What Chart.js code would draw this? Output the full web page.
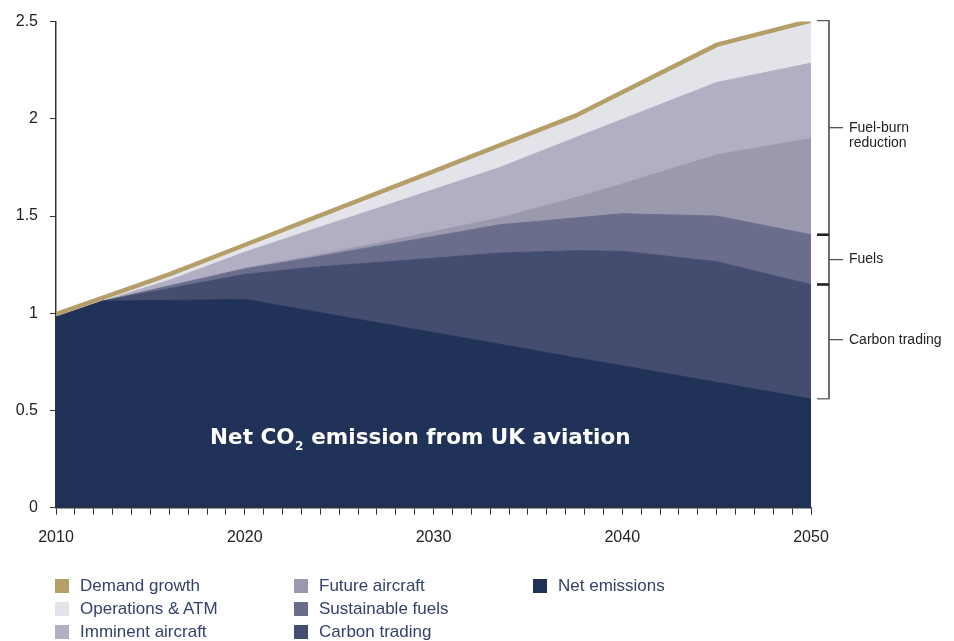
<!DOCTYPE html>
<html>
<head>
<meta charset="utf-8">
<script src="https://cdn.jsdelivr.net/npm/chart.js@4.4.1/dist/chart.umd.min.js"></script>
<style>
  html, body { margin: 0; padding: 0; background: #ffffff; }
  #wrap { position: relative; width: 954px; height: 641px; overflow: hidden; }
  #chart { position: absolute; left: 0; top: 0; }
  .lg { position: absolute; height: 20px; display: flex; align-items: center; white-space: nowrap;
        font-family: "Liberation Sans", Arial, sans-serif; font-size: 17px; color: #34426b; }
  .lg i { display: inline-block; width: 14px; height: 14px; margin-right: 11px; }
</style>
</head>
<body>
<div id="wrap">
  <canvas id="chart" width="954" height="641"></canvas>
  <div id="legend"></div>
</div>
<script>
// ---- data ----
const years = [2010, 2012.5, 2016, 2020, 2023.5, 2027, 2030, 2033.5, 2037.5, 2040, 2045, 2050];
// Demand growth (unabated emissions, index 2010 = 1)
const demandGrowth     = [0.995, 1.080, 1.200, 1.351, 1.484, 1.617, 1.730, 1.863, 2.015, 2.137, 2.380, 2.505];
// Upper edge of each stacked band
const operationsAtm    = [0.980, 1.066, 1.185, 1.336, 1.469, 1.600, 1.715, 1.848, 2.000, 2.120, 2.365, 2.490];
const imminentAircraft = [0.980, 1.063, 1.170, 1.314, 1.427, 1.539, 1.636, 1.749, 1.902, 1.997, 2.187, 2.286];
const futureAircraft   = [0.980, 1.063, 1.142, 1.232, 1.293, 1.360, 1.420, 1.490, 1.594, 1.665, 1.815, 1.899];
const sustainableFuels = [0.980, 1.063, 1.140, 1.228, 1.285, 1.345, 1.395, 1.455, 1.490, 1.512, 1.500, 1.404];
const carbonTrading    = [0.980, 1.063, 1.127, 1.200, 1.236, 1.261, 1.283, 1.310, 1.322, 1.319, 1.265, 1.148];
const netEmissions     = [0.980, 1.063, 1.066, 1.072, 1.012, 0.952, 0.901, 0.841, 0.772, 0.730, 0.645, 0.560];

const xTickLabels = [2010, 2020, 2030, 2040, 2050];
const yTickValues = [0, 0.5, 1, 1.5, 2, 2.5];

const legendItems = [
  ['Demand growth', '#b49e6a'], ['Operations & ATM', '#e3e4ea'], ['Imminent aircraft', '#b2afc4'],
  ['Future aircraft', '#9b99ae'], ['Sustainable fuels', '#6b6d8c'], ['Carbon trading', '#444d70'],
  ['Net emissions', '#203258']
];
const bracketLabels = [['Fuel-burn', 'reduction'], ['Fuels'], ['Carbon trading']];

// ---- styles ----
const COL = {
  gold: '#b49e6a', ops: '#e3e4ea', imminent: '#b2afc4', future: '#9b99ae',
  sust: '#6b6d8c', carbon: '#444d70', net: '#203258', axis: '#333333', text: '#222222'
};

const pts = arr => years.map((x, i) => ({ x: x, y: arr[i] }));
function band(label, arr, color, fill) {
  return { label, data: pts(arr), fill, backgroundColor: color, borderColor: color,
           borderWidth: 1, pointRadius: 0, tension: 0 };
}

const annotationPlugin = {
  id: 'annot',
  afterDatasetsDraw(chart) {
    const { ctx, scales: { x, y } } = chart;
    ctx.save();
    ctx.fillStyle = '#ffffff';
    ctx.textBaseline = 'alphabetic';
    const big = 'bold 21.5px "DejaVu Sans"', small = 'bold 12px "DejaVu Sans"';
    const p1 = 'Net CO', p2 = '2', p3 = ' emission from UK aviation';
    ctx.font = big; const w1 = ctx.measureText(p1).width, w3 = ctx.measureText(p3).width;
    ctx.font = small; const w2 = ctx.measureText(p2).width + 1;
    const total = w1 + w2 + w3;
    let sx = x.getPixelForValue(2029.3) - total / 2;
    const by = y.getPixelForValue(0.328);
    ctx.font = big; ctx.fillText(p1, sx, by);
    ctx.font = small; ctx.fillText(p2, sx + w1 + 0.5, by + 6.5);
    ctx.font = big; ctx.fillText(p3, sx + w1 + w2, by);
    ctx.restore();
  },
  afterDraw(chart) {
    const { ctx, chartArea, scales: { y } } = chart;
    const n = years.length - 1;
    const edges = [demandGrowth[n], sustainableFuels[n], carbonTrading[n], netEmissions[n]].map(v => y.getPixelForValue(v));
    const xv = chartArea.right + 18;
    ctx.save();
    ctx.strokeStyle = '#222';
    ctx.lineWidth = 1.3;
    ctx.beginPath(); ctx.moveTo(xv, edges[0]); ctx.lineTo(xv, edges[3]); ctx.stroke();
    edges.forEach((ey, i) => {
      const inner = (i === 1 || i === 2);
      ctx.lineWidth = inner ? 2.6 : 1.2;
      ctx.strokeStyle = inner ? '#222' : '#555';
      ctx.beginPath(); ctx.moveTo(chartArea.right + 6, ey); ctx.lineTo(xv + (inner ? 0 : 0.6), ey); ctx.stroke();
    });
    ctx.font = '14px "Liberation Sans", Arial, sans-serif';
    ctx.fillStyle = COL.text;
    ctx.textBaseline = 'middle';
    for (let i = 0; i < 3; i++) {
      const my = (edges[i] + edges[i + 1]) / 2 - (i === 2 ? 2 : 0);
      ctx.strokeStyle = '#555'; ctx.lineWidth = 1.3;
      ctx.beginPath(); ctx.moveTo(xv, my); ctx.lineTo(xv + 14, my); ctx.stroke();
      bracketLabels[i].forEach((t, k) => ctx.fillText(t, xv + 20, my + k * 15));
    }
    ctx.restore();
  }
};

new Chart(document.getElementById('chart'), {
  type: 'line',
  data: {
    datasets: [
      band('Net emissions', netEmissions, COL.net, 'origin'),
      band('Carbon trading', carbonTrading, COL.carbon, '-1'),
      band('Sustainable fuels', sustainableFuels, COL.sust, '-1'),
      band('Future aircraft', futureAircraft, COL.future, '-1'),
      band('Imminent aircraft', imminentAircraft, COL.imminent, '-1'),
      band('Operations & ATM', operationsAtm, COL.ops, '-1'),
      { label: 'Demand growth', data: pts(demandGrowth), fill: false, borderColor: COL.gold,
        borderWidth: 4.5, pointRadius: 0, tension: 0, order: -1, borderJoinStyle: 'miter' }
    ]
  },
  options: {
    responsive: false, animation: false, devicePixelRatio: 1,
    layout: { padding: { left: 0, top: 19, right: 143, bottom: 93.3 } },
    plugins: { legend: { display: false }, tooltip: { enabled: false } },
    scales: {
      x: {
        type: 'linear', min: 2010, max: 2050, z: 1,
        afterFit: s => { s.height = 40; },
        ticks: { stepSize: 1, autoSkip: false, maxRotation: 0, padding: 13,
                 color: COL.text, font: { family: '"Liberation Sans", Arial, sans-serif', size: 16 },
                 callback: v => xTickLabels.includes(v) ? String(v) : '' },
        grid: { drawOnChartArea: false, drawTicks: true, tickLength: 7, color: COL.axis, lineWidth: 1 },
        border: { display: true, color: COL.axis, width: 1.5 }
      },
      y: {
        min: 0, max: 2.5, z: 1,
        afterFit: s => { s.width = 56; },
        afterBuildTicks: s => { s.ticks = yTickValues.map(v => ({ value: v })); },
        ticks: { padding: 12, color: COL.text, font: { family: '"Liberation Sans", Arial, sans-serif', size: 16 },
                 callback: v => String(v) },
        grid: { drawOnChartArea: false, drawTicks: true, tickLength: 6, color: COL.axis, lineWidth: 1 },
        border: { display: true, color: COL.axis, width: 1.5 }
      }
    }
  },
  plugins: [annotationPlugin]
});

// ---- legend (HTML, column-major in 3 rows) ----
const lg = document.getElementById('legend');
const colX = [55, 294, 533], rowY = [576, 599, 622];
legendItems.forEach(([name, color], i) => {
  const d = document.createElement('div');
  d.className = 'lg';
  d.style.left = colX[Math.floor(i / 3)] + 'px';
  d.style.top = rowY[i % 3] + 'px';
  const sq = document.createElement('i'); sq.style.background = color;
  d.appendChild(sq);
  d.appendChild(document.createTextNode(name));
  lg.appendChild(d);
});
</script>
</body>
</html>
